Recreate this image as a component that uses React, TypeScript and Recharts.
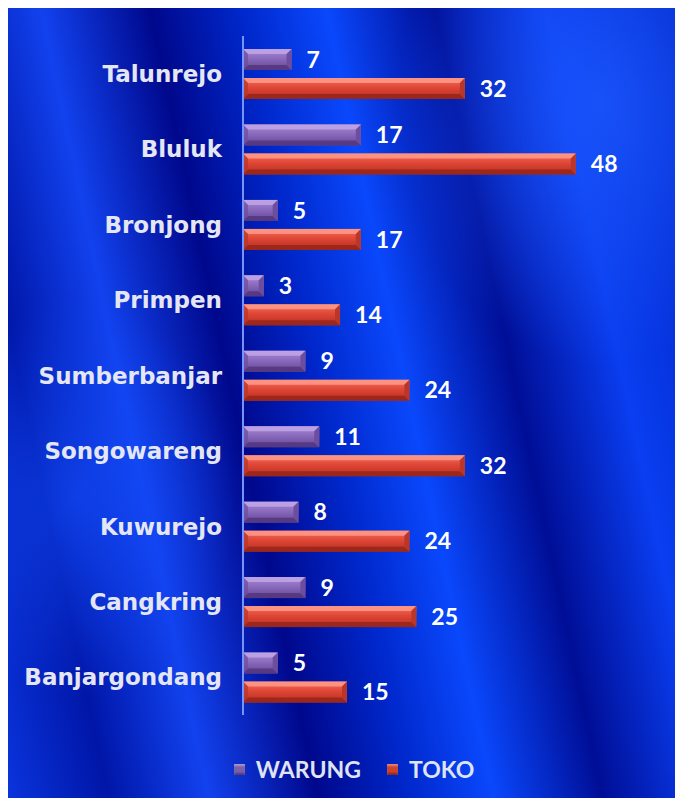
import { BarChart, Bar, XAxis, YAxis, Legend, LabelList } from 'recharts';

const categories = ['Talunrejo', 'Bluluk', 'Bronjong', 'Primpen', 'Sumberbanjar', 'Songowareng', 'Kuwurejo', 'Cangkring', 'Banjargondang'];
const warung = [7, 17, 5, 3, 9, 11, 8, 9, 5];
const toko = [32, 48, 17, 14, 24, 32, 24, 25, 15];

const data = categories.map((name, i) => ({ name, WARUNG: warung[i], TOKO: toko[i] }));

const palettes: Record<string, { top: string; mid: string; bottom: string; end: string; id: string }> = {
    WARUNG: { top: '#c0a6e6', mid: '#8666b8', bottom: '#553780', end: '#6d4d9e', id: 'gW' },
    TOKO: { top: '#ff9a88', mid: '#e04a38', bottom: '#99261a', end: '#b8362a', id: 'gT' },
};

const BevelBar = (props: any) => {
    const { x, y, width, height, dataKey } = props;
    if (!width || width <= 0) return null;
    const p = palettes[dataKey];
    const b = Math.min(5, width / 3, height / 3);
    const r = x + width;
    const yb = y + height;
    return (
        <g>
            <rect x={x} y={y} width={width} height={height} fill={`url(#${p.id})`} />
            <polygon points={`${x},${y} ${r},${y} ${r - b},${y + b} ${x + b},${y + b}`} fill={p.top} opacity={0.85} />
            <polygon points={`${x},${yb} ${r},${yb} ${r - b},${yb - b} ${x + b},${yb - b}`} fill={p.bottom} opacity={0.9} />
            <polygon points={`${r},${y} ${r},${yb} ${r - b},${yb - b} ${r - b},${y + b}`} fill={p.end} />
            <polygon points={`${x},${y} ${x},${yb} ${x + b},${yb - b} ${x + b},${y + b}`} fill={p.end} opacity={0.7} />
        </g>
    );
};

const LegendContent = () => (
    <div style={{ display: 'flex', justifyContent: 'center', alignItems: 'center', paddingLeft: 22, fontFamily: 'Lato', fontWeight: 700, fontSize: 23, color: '#dfe3f2' }}>
        {[['WARUNG', '#7a5fae'], ['TOKO', '#d0402a']].map(([label, color], i) => (
            <div key={label} style={{ display: 'flex', alignItems: 'center', marginLeft: i ? 26 : 0 }}>
                <span style={{ width: 11, height: 11, background: color, boxShadow: 'inset 0 2px 2px rgba(255,255,255,0.35), inset 0 -2px 2px rgba(0,0,0,0.35)', marginRight: 11 }} />
                <span>{label}</span>
            </div>
        ))}
    </div>
);

export default function App() {
    return (
        <div style={{
            width: 670, height: 790,
            background: 'radial-gradient(ellipse 200px 260px at 88% 12%, rgba(30,90,255,0.75), rgba(30,90,255,0) 100%), radial-gradient(ellipse 160px 200px at 10% 62%, rgba(20,80,255,0.6), rgba(20,80,255,0) 100%), linear-gradient(78deg, #0a34dc 0%, #0016a8 12%, #1242ee 24%, #00088c 37%, #0028cc 48%, #0a48fc 58%, #000e96 71%, #0a3ef0 84%, #0026c6 100%)',
        }}>
            <BarChart width={670} height={790} data={data} layout="vertical" barSize={21} barGap={8}
                margin={{ top: 28, right: 19, bottom: 55, left: 0 }}>
                <defs>
                    <linearGradient id="gW" x1="0" y1="0" x2="0" y2="1">
                        <stop offset="0%" stopColor="#a88ad6" />
                        <stop offset="45%" stopColor="#8a6abc" />
                        <stop offset="100%" stopColor="#634494" />
                    </linearGradient>
                    <linearGradient id="gT" x1="0" y1="0" x2="0" y2="1">
                        <stop offset="0%" stopColor="#f27060" />
                        <stop offset="45%" stopColor="#e04636" />
                        <stop offset="100%" stopColor="#b42e20" />
                    </linearGradient>
                </defs>
                <XAxis type="number" domain={[0, 60]} hide />
                <YAxis type="category" dataKey="name" width={235} tickLine={false} tickMargin={15}
                    axisLine={{ stroke: '#7494ff', strokeWidth: 2 }}
                    tick={{ fill: '#e4e7f3', fontSize: 23, fontWeight: 700, fontFamily: 'DejaVu Sans' }} />
                <Legend content={<LegendContent />} wrapperStyle={{ top: 747, left: 0, width: 670 }} />
                <Bar dataKey="WARUNG" shape={BevelBar} isAnimationActive={false}>
                    <LabelList dataKey="WARUNG" position="right" offset={15} fill="#ffffff" fontSize={23} fontWeight={700} fontFamily="Lato" />
                </Bar>
                <Bar dataKey="TOKO" shape={BevelBar} isAnimationActive={false}>
                    <LabelList dataKey="TOKO" position="right" offset={15} fill="#ffffff" fontSize={23} fontWeight={700} fontFamily="Lato" />
                </Bar>
            </BarChart>
        </div>
    );
}
